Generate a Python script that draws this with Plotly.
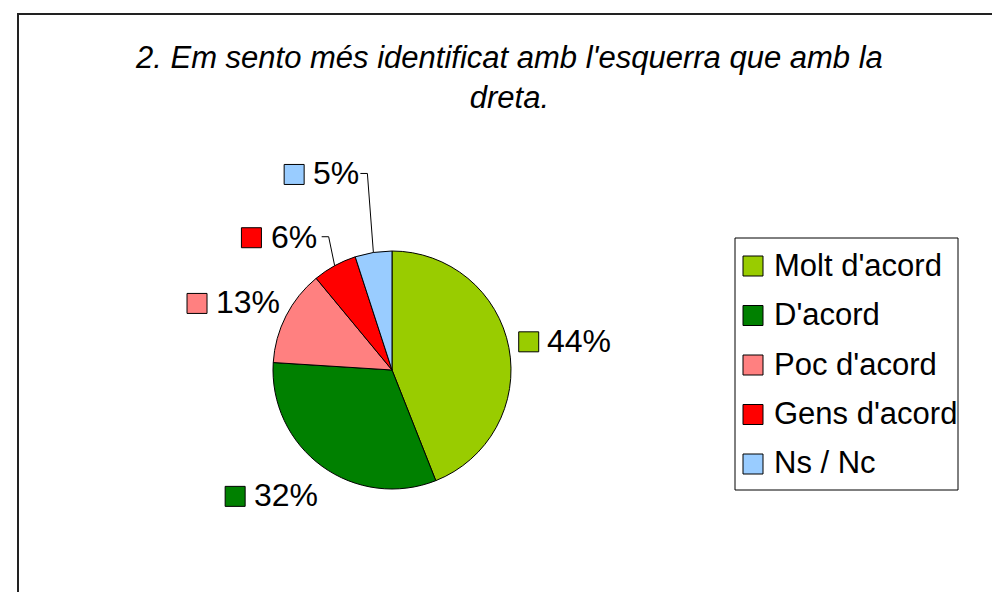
import math
import plotly.graph_objects as go

# ---------------- data ----------------
CATEGORIES = ["Molt d'acord", "D'acord", "Poc d'acord", "Gens d'acord", "Ns / Nc"]
VALUES = [44, 32, 13, 6, 5]
COLORS = ["#99CC00", "#008000", "#FF8080", "#FF0000", "#99CCFF"]
TITLE = "2. Em sento més identificat amb l'esquerra que amb la<br>dreta."

# ---------------- layout constants ----------------
W, H = 1000, 592
OFF = 8                              # page body margin of the html page
CX, CY, R = 392, 370, 119            # pie centre / radius in pixels
FONT = "Liberation Sans, Arial, sans-serif"
LBL_FS = 32
LEG_FS = 31
TITLE_FS = 31
LABEL_GAP = 10
LABEL_LIFT = [5, -21, 9, 29, 79]     # vertical nudge of each percent label
LABEL_DX = [0, 4, 5, -2, 2]          # horizontal nudge of each percent label
LABEL_LEADER = [False, False, False, True, True]
SQ = 20
SQ_GAP = 11


def px(x):
    return (x - OFF) / W


def py(y):
    return 1 - (y - OFF) / H


EM = {"%": 0.889, " ": 0.278}


def text_w(s, fs):
    return sum(EM.get(ch, 0.556) for ch in s) * fs


fig = go.Figure()
fig.add_trace(go.Pie(
    labels=CATEGORIES, values=VALUES, sort=False, direction="clockwise",
    rotation=0, textinfo="none", hoverinfo="label+percent",
    marker=dict(colors=COLORS, line=dict(color="black", width=1)),
    showlegend=False,
    domain=dict(x=[px(CX - R), px(CX + R)], y=[py(CY + R), py(CY - R)]),
))

shapes = []
annotations = []

# page frame
shapes.append(dict(type="rect", xref="paper", yref="paper",
                   x0=px(18), y0=py(14), x1=px(1020), y1=py(630),
                   line=dict(color="#222222", width=2), fillcolor="rgba(0,0,0,0)"))

# title
annotations.append(dict(xref="paper", yref="paper", x=px(509), y=py(77),
                        xanchor="center", yanchor="middle", showarrow=False,
                        text="<i>" + TITLE + "</i>",
                        font=dict(family=FONT, size=TITLE_FS, color="black")))

# percent labels
total = sum(VALUES)
cum = 0
for i, v in enumerate(VALUES):
    mid = (cum + v / 2) / total * 2 * math.pi
    cum += v
    s, c = math.sin(mid), math.cos(mid)
    pct = f"{round(100 * v / total)}%"
    tw = text_w(pct, LBL_FS)
    if LABEL_LEADER[i]:
        ex, ey = CX + R * s, CY - R * c
        elx, ely = ex - 6, ey - LABEL_LIFT[i]
        shapes.append(dict(type="path", xref="paper", yref="paper",
                           path=f"M {px(ex)} {py(ey)} L {px(elx)} {py(ely)} L {px(elx - 7)} {py(ely)}",
                           line=dict(color="black", width=1)))
        right = elx - 8 + LABEL_DX[i]
        cy = ely
        left_side = True
    else:
        lx = CX + (R + LABEL_GAP) * s + LABEL_DX[i]
        cy = CY - (R + LABEL_GAP) * c - LABEL_LIFT[i]
        left_side = s < 0
        right = lx
    if left_side:
        annotations.append(dict(xref="paper", yref="paper", x=px(right), y=py(cy),
                                xanchor="right", yanchor="middle", showarrow=False,
                                text=pct, font=dict(family=FONT, size=LBL_FS, color="black")))
        sq_x1 = right - tw - SQ_GAP
        sq_x0 = sq_x1 - SQ
    else:
        sq_x0 = lx
        sq_x1 = lx + SQ
        annotations.append(dict(xref="paper", yref="paper", x=px(sq_x1 + 6), y=py(cy),
                                xanchor="left", yanchor="middle", showarrow=False,
                                text=pct, font=dict(family=FONT, size=LBL_FS, color="black")))
    shapes.append(dict(type="rect", xref="paper", yref="paper",
                       x0=px(sq_x0), x1=px(sq_x1), y0=py(cy - SQ / 2 + 1), y1=py(cy + SQ / 2 + 1),
                       fillcolor=COLORS[i], line=dict(color="black", width=1)))

# legend (manual, to match the box and spacing)
LX0, LY0, LX1, LY1 = 735, 238, 958, 490
shapes.append(dict(type="rect", xref="paper", yref="paper",
                   x0=px(LX0), y0=py(LY0), x1=px(LX1), y1=py(LY1),
                   line=dict(color="black", width=1), fillcolor="white"))
for i, name in enumerate(CATEGORIES):
    cy = 265 + 49.5 * i
    shapes.append(dict(type="rect", xref="paper", yref="paper",
                       x0=px(743), x1=px(743 + SQ), y0=py(cy - SQ / 2 + 1), y1=py(cy + SQ / 2 + 1),
                       fillcolor=COLORS[i], line=dict(color="black", width=1)))
    annotations.append(dict(xref="paper", yref="paper", x=px(772), y=py(cy),
                            xanchor="left", yanchor="middle", showarrow=False,
                            text=name, font=dict(family=FONT, size=LEG_FS, color="black")))

fig.update_layout(
    width=W, height=H, autosize=False,
    margin=dict(l=0, r=0, t=0, b=0),
    paper_bgcolor="white", plot_bgcolor="white",
    shapes=shapes, annotations=annotations,
    showlegend=False,
    font=dict(family=FONT),
)

fig.write_html("out.html")
